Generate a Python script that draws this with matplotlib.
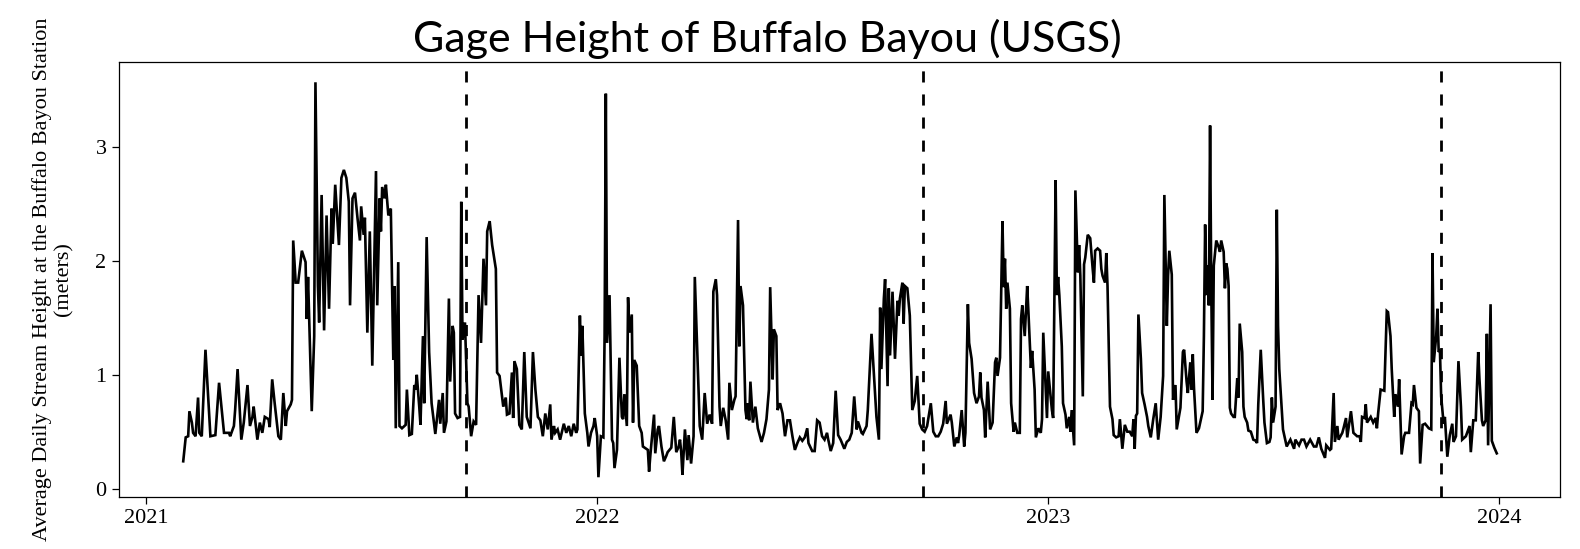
import numpy as np
import pandas as pd
import matplotlib
matplotlib.use("Agg")
from matplotlib import pyplot as plt
import matplotlib.dates as mdates

# days since 2021-01-01 (turning points of the daily series)
day = [
    30, 32, 34, 35, 37, 38, 40, 42, 43, 45, 48, 52, 56, 59, 63, 67, 68, 71, 72, 74,
    77, 79, 82, 84, 86, 87, 90, 92, 94, 96, 99, 100, 102, 104, 107, 109, 111,
    113, 114, 117, 118, 119, 121, 123, 126, 129, 130, 131, 134, 136, 137, 139, 140,
    142, 144, 146, 148, 150, 151, 153, 156, 158, 160, 162, 164, 165, 167, 169, 171,
    173, 174, 176, 177, 179, 181, 183, 186, 187, 189, 190, 191, 193, 194, 196, 198,
    200, 201, 202, 204, 205, 207, 210, 211, 213, 215, 217, 218, 219, 221, 222, 224,
    225, 227, 229, 231, 234, 237, 238, 240, 241, 243, 245, 246, 248, 249, 250, 252,
    254, 255, 256, 258, 260, 261, 263, 265, 267, 269, 271, 273, 275, 276, 278, 280,
    283, 284, 286,
    289, 291, 292, 294, 296, 297, 298, 300, 302, 304, 306, 308, 311, 313, 315, 317,
    319, 321, 323, 325, 327, 328, 330, 331, 333, 335, 338, 340, 342, 344, 346, 348,
    349, 351, 352, 353, 355, 357, 358, 360, 362, 363, 365, 366, 368, 370, 371, 372,
    373, 375, 377, 378, 379,
    381, 383, 385, 386, 387, 389, 390, 391, 393, 394, 395, 397, 399, 401, 402, 406,
    407, 408, 411, 412, 414, 415, 417, 419, 421, 422, 425, 427, 429, 431, 432, 433,
    434, 436, 438, 439, 441, 443, 444, 446, 448, 450, 452, 454, 456, 458, 459, 461,
    462, 464, 465, 467,
    469, 471, 472, 474, 476, 477, 479, 480, 481, 483, 485, 486, 487, 488, 489, 491,
    493, 495, 498, 500, 502, 504, 505, 507, 508, 510, 511, 513, 515, 517, 519, 521,
    523, 525, 527, 529, 531, 533, 535, 536, 539, 541, 543, 545, 547, 549, 551, 552,
    554, 556,
    558, 560, 562, 565, 567, 569, 571, 573, 575, 576, 579, 580, 583, 584, 587, 589,
    591, 593, 594, 595, 597, 598, 600, 601, 602, 604, 606, 608, 609, 610, 612, 613,
    614, 616, 618, 620, 622, 624, 626, 628, 630, 632, 635, 637, 639, 641, 643, 645,
    647, 648, 651, 652, 654, 656, 657, 658, 660, 662, 663, 665, 666, 668, 670, 672,
    674, 675, 676, 678, 679, 681, 683, 685, 687, 688, 689, 691, 693, 694, 695, 696,
    697, 699, 700, 702, 703, 705, 707, 708, 709, 711, 713, 714, 716, 717, 719, 720,
    722, 724, 725, 726, 729, 730, 733, 734,
    736, 737, 738, 739, 741, 742, 744, 745, 747, 748, 749, 751, 752, 754, 755, 756,
    758, 759, 760, 762, 764, 766, 767, 768, 770, 772, 773, 774, 776, 777, 778, 780,
    782, 783, 785, 787, 788, 790, 792, 794, 796, 798, 799, 800, 801, 802, 803, 805,
    806, 808, 810, 811, 813, 815, 817, 819, 821, 823, 824,
    826, 827, 828, 830, 831, 833, 834, 837, 839, 840, 842, 843, 845, 846, 847, 848,
    850, 852, 854, 855, 856, 857, 858, 859, 860, 861, 862, 863, 864, 866, 868, 869,
    870, 872, 873, 874, 875, 876, 877, 878, 880, 881, 883, 884, 885, 887, 888, 889,
    891, 892, 894, 896, 898, 899, 900, 902, 904, 905, 907, 909, 910,
    911, 912, 914, 915, 916, 917, 920, 923, 926, 929, 930, 933, 935, 937, 939, 942,
    945, 947, 949, 951, 954, 955, 958, 959, 961, 962, 964, 965, 968, 969, 971, 972,
    975, 977, 980, 982, 983, 984, 986, 987, 988, 991, 993, 995, 996, 997, 999,
    1002, 1004, 1005, 1007, 1008, 1010, 1011, 1013, 1014, 1016, 1018, 1019, 1022,
    1024, 1025, 1026, 1028, 1030, 1031, 1033, 1035, 1038, 1040, 1041, 1042, 1044,
    1045, 1046, 1047, 1048, 1050, 1051, 1053, 1055, 1057, 1058, 1060, 1062, 1064,
    1065, 1068, 1070, 1071, 1072, 1074, 1076, 1078, 1079, 1081, 1082, 1084, 1085,
    1086, 1088, 1089, 1091, 1093,
]

# average daily gage height (meters)
height = [
    0.24, 0.45, 0.46, 0.68, 0.58, 0.49, 0.46, 0.80, 0.49, 0.46, 1.22, 0.46, 0.47, 0.93, 0.49, 0.49, 0.46, 0.55, 0.69, 1.05,
    0.43, 0.58, 0.91, 0.55, 0.63, 0.72, 0.43, 0.58, 0.49, 0.63, 0.61, 0.54, 0.96, 0.75, 0.46, 0.43, 0.84,
    0.55, 0.68, 0.74, 0.78, 2.18, 1.81, 1.81, 2.09, 1.99, 1.49, 1.86, 0.68, 1.34, 3.57, 1.78, 1.46,
    2.58, 1.39, 2.40, 1.58, 2.46, 2.15, 2.67, 2.14, 2.73, 2.80, 2.73, 2.52, 1.61, 2.55, 2.60, 2.38,
    2.18, 2.48, 2.23, 2.38, 1.37, 2.26, 1.08, 2.79, 1.61, 2.55, 2.26, 2.65, 2.55, 2.67, 2.40, 2.46,
    1.13, 1.78, 0.53, 1.99, 0.55, 0.53, 0.56, 0.87, 0.47, 0.48, 0.91, 0.87, 1.00, 0.72, 0.56, 1.34,
    0.75, 2.21, 1.20, 0.75, 0.48, 0.78, 0.57, 0.84, 0.49, 0.59, 1.67, 0.94, 1.43, 1.37, 0.66, 0.62,
    0.63, 2.52, 1.31, 1.46, 0.75, 0.72, 0.46, 0.59, 0.56, 1.70, 1.28, 2.02, 1.61, 2.26, 2.35, 2.14,
    1.93, 1.02, 0.99,
    0.72, 0.80, 0.65, 0.66, 1.02, 0.62, 1.12, 1.05, 0.56, 0.52, 1.20, 0.63, 0.53, 1.20, 0.87, 0.63,
    0.60, 0.46, 0.66, 0.52, 0.74, 0.43, 0.55, 0.49, 0.52, 0.43, 0.57, 0.49, 0.55, 0.46, 0.57, 0.49,
    0.52, 1.52, 1.17, 1.43, 0.66, 0.49, 0.37, 0.49, 0.55, 0.62, 0.46, 0.10, 0.46, 0.45, 1.34, 3.47,
    1.28, 1.70, 0.43, 0.40, 0.18,
    0.34, 1.15, 0.63, 0.61, 0.83, 0.55, 1.68, 1.37, 1.53, 0.58, 1.13, 1.08, 0.55, 0.49, 0.37, 0.34,
    0.15, 0.29, 0.65, 0.31, 0.52, 0.55, 0.37, 0.24, 0.29, 0.32, 0.36, 0.63, 0.32, 0.37, 0.43, 0.32,
    0.12, 0.52, 0.25, 0.47, 0.22, 0.46, 1.86, 1.20, 0.55, 0.43, 0.84, 0.57, 0.65, 0.57, 1.73, 1.84,
    1.70, 0.72, 0.55, 0.71,
    0.60, 0.43, 0.93, 0.69, 0.78, 0.81, 2.36, 1.25, 1.78, 1.61, 0.69, 0.61, 0.75, 0.60, 0.94, 0.58,
    0.72, 0.53, 0.41, 0.49, 0.61, 0.87, 1.77, 0.96, 1.40, 1.34, 0.69, 0.75, 0.66, 0.46, 0.60, 0.60,
    0.46, 0.34, 0.40, 0.45, 0.42, 0.45, 0.53, 0.40, 0.33, 0.33, 0.60, 0.58, 0.46, 0.43, 0.49, 0.43,
    0.33, 0.40,
    0.86, 0.47, 0.43, 0.35, 0.41, 0.43, 0.49, 0.81, 0.52, 0.59, 0.49, 0.48, 0.55, 0.69, 1.36, 0.99,
    0.63, 0.43, 1.59, 1.05, 1.67, 1.84, 0.90, 1.76, 1.17, 1.73, 1.14, 1.65, 1.52, 1.67, 1.81, 1.45,
    1.78, 1.76, 1.52, 0.69, 0.77, 0.99, 0.57, 0.52, 0.50, 0.55, 0.75, 0.50, 0.46, 0.46, 0.50, 0.57,
    0.77, 0.57, 0.65, 0.58, 0.37, 0.45, 0.40, 0.47, 0.69, 0.37, 0.49, 1.62, 1.28, 1.14, 0.84, 0.75,
    0.81, 1.02, 0.80, 0.69, 0.45, 0.94, 0.52, 0.58, 1.11, 1.15, 0.99, 1.15, 2.35, 1.77, 2.02, 1.58,
    1.81, 1.58, 0.75, 0.50, 0.58, 0.49, 0.49, 1.49, 1.61, 1.34, 1.78, 1.55, 1.06, 1.21, 0.87, 0.45,
    0.53, 0.49, 0.61, 1.37, 0.62, 1.03, 0.69, 0.62,
    2.71, 1.70, 1.86, 1.70, 1.25, 0.75, 0.65, 0.53, 0.63, 0.50, 0.69, 0.38, 2.62, 1.90, 2.14, 1.87,
    0.81, 1.97, 2.03, 2.23, 2.20, 1.93, 1.81, 2.09, 2.11, 2.09, 1.93, 1.87, 1.81, 2.07, 1.78, 0.72,
    0.61, 0.47, 0.45, 0.46, 0.61, 0.35, 0.56, 0.50, 0.50, 0.46, 0.61, 0.35, 0.64, 0.66, 1.53, 1.14,
    0.84, 0.74, 0.63, 0.55, 0.45, 0.61, 0.75, 0.43, 0.63, 0.99, 2.58,
    1.43, 1.87, 2.09, 1.88, 0.78, 0.91, 0.52, 0.71, 1.20, 1.22, 0.94, 0.84, 1.11, 0.87, 1.18, 0.88,
    0.49, 0.53, 0.63, 0.68, 1.34, 2.32, 1.70, 1.96, 1.61, 3.19, 1.73, 0.78, 1.96, 2.18, 2.12, 2.08,
    2.18, 2.08, 1.76, 1.98, 1.93, 1.78, 0.71, 0.66, 0.63, 0.63, 0.97, 0.80, 1.45, 1.20, 0.72, 0.63,
    0.58, 0.51, 0.50, 0.43, 0.42, 0.40, 0.74, 1.22, 0.78, 0.58, 0.40, 0.41, 0.45,
    0.80, 0.58, 0.72, 2.45, 1.43, 1.05, 0.52, 0.37, 0.43, 0.35, 0.43, 0.38, 0.43, 0.43, 0.37, 0.43,
    0.37, 0.37, 0.45, 0.35, 0.27, 0.38, 0.34, 0.35, 0.84, 0.41, 0.55, 0.43, 0.49, 0.53, 0.62, 0.45,
    0.68, 0.49, 0.46, 0.46, 0.41, 0.63, 0.62, 0.74, 0.58, 0.63, 0.58, 0.62, 0.53, 0.66, 0.87,
    0.86, 1.56, 1.55, 1.34, 1.05, 0.63, 0.83, 0.72, 0.96, 0.30, 0.46, 0.49, 0.49,
    0.75, 0.74, 0.91, 0.71, 0.68, 0.22, 0.56, 0.57, 0.53, 0.52, 2.07, 1.11, 1.34,
    1.58, 1.20, 1.22, 0.81, 0.57, 0.63, 0.28, 0.47, 0.57, 0.41, 0.46, 1.12, 0.72,
    0.43, 0.46, 0.52, 0.55, 0.32, 0.60, 0.60, 1.20, 0.96, 0.60, 0.55, 0.60, 1.36,
    0.38, 1.62, 0.42, 0.36, 0.31,
]

event_dates = ["2021-09-17", "2022-09-22", "2023-11-15"]
year_ticks = ["2021", "2022", "2023", "2024"]

dates = pd.Timestamp("2021-01-01") + pd.to_timedelta(day, unit="D")

fig = plt.figure(figsize=(15.8, 5.49), dpi=100)
ax = fig.add_axes([0.0753, 0.0955, 0.9119, 0.7907])

ax.plot(dates, height, color="black", lw=1.9, solid_joinstyle="miter")
for d in event_dates:
    ax.axvline(pd.Timestamp(d), color="black", lw=2.0, dashes=(4.0, 4.3))

ax.set_xlim(pd.Timestamp("2020-12-10"), pd.Timestamp("2024-02-19"))
ax.set_ylim(-0.07, 3.744)
ax.set_yticks([0, 1, 2, 3])
ax.set_xticks([pd.Timestamp(y + "-01-01") for y in year_ticks])
ax.set_xticklabels(year_ticks)

serif = ["Liberation Serif", "DejaVu Serif"]
for lab in ax.get_xticklabels() + ax.get_yticklabels():
    lab.set_family(serif)
    lab.set_fontsize(16)
ax.tick_params(direction="out", length=5, width=0.9, pad=4)
for s in ax.spines.values():
    s.set_linewidth(0.9)

ax.set_ylabel("Average Daily Stream Height at the Buffalo Bayou Station\n(meters)",
              family=serif, fontsize=16, labelpad=16, linespacing=1.15)

fig.text(0.4854, 0.930, "Gage Height of Buffalo Bayou (USGS)", family=["Lato", "DejaVu Sans"],
         fontsize=31, ha="center", va="center")

fig.savefig("out.png", dpi=100)
